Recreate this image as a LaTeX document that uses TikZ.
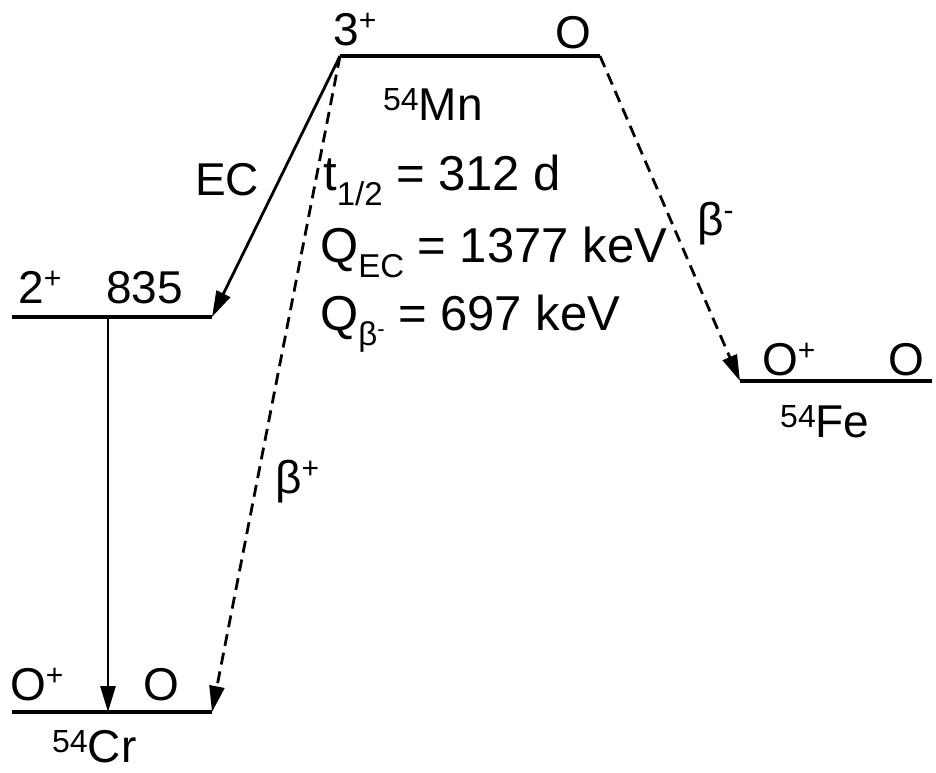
\documentclass[tikz,border=0pt]{standalone}
\usepackage{fontspec}
\setmainfont{Liberation Sans}
\usetikzlibrary{arrows.meta}
\newcommand{\myup}[1]{\raisebox{15pt}{\fontsize{30}{30}\selectfont #1}}
\newcommand{\mydn}[1]{\raisebox{-15pt}{\fontsize{33}{33}\selectfont #1}}
\newcommand{\myiso}[1]{\raisebox{10pt}{\fontsize{32}{32}\selectfont #1}}
\begin{document}
\begin{tikzpicture}[x=1pt,y=-1pt,
  level/.style={line width=3.2pt},
  trans/.style={line width=2.8pt,-{Triangle[length=26pt,width=15pt]}},
  dtrans/.style={trans,dash pattern=on 12pt off 7pt},
  lbl/.style={inner sep=0pt,anchor=base west,font=\fontsize{46}{50}\selectfont},
  txt/.style={lbl,font=\fontsize{49}{52}\selectfont},
]
\useasboundingbox (0,0) rectangle (936,772);
% level end points
\coordinate (mnL) at (340,56);
\coordinate (mnR) at (600,56);
\coordinate (exL) at (12,317);
\coordinate (exR) at (212,317);
\coordinate (exG) at (108,317);
\coordinate (crL) at (12,712);
\coordinate (crR) at (212,712);
\coordinate (crG) at (108,712);
\coordinate (feL) at (740,381);
\coordinate (feR) at (932,381);
% levels
\draw[level] (mnL) -- (mnR);
\draw[level] (exL) -- (exR);
\draw[level] (crL) -- (crR);
\draw[level] (feL) -- (feR);
% transitions
\draw[trans] (mnL) -- (exR);
\draw[trans] (exG) -- (crG);
\draw[dtrans] (mnL) -- (crR);
\draw[dtrans] (mnR) -- (feL);
% labels
\node[lbl] (mnspin) at (333,45) {3\myup{+}};
\node[lbl] (mnE) at (555,48) {O};
\node[lbl] (mnname) at (383,120) {\myiso{54}Mn};
\node[lbl] (ec) at (195,195) {EC};
\node[lbl] (exspin) at (18,303) {2\myup{+}};
\node[lbl] (exE) at (106,303) {835};
\node[lbl] (crspin) at (10,700) {O\myup{+}};
\node[lbl] (crE) at (143,700) {O};
\node[lbl] (crname) at (52,762) {\myiso{54}Cr};
\node[lbl] (bplus) at (275,493) {β\myup{+}};
\node[lbl] (bminus) at (697,235) {β\myup{-}};
\node[lbl] (fespin) at (762,375) {O\myup{+}};
\node[lbl] (feE) at (888,375) {O};
\node[lbl] (fename) at (780,437) {\myiso{54}Fe};
\node[txt] (thalf) at (323,190) {t\mydn{1/2} = 312 d};
\node[txt] (qec) at (320,262) {Q\mydn{EC} = 1377 keV};
\node[txt] (qb) at (320,330) {Q\mydn{β\raisebox{9pt}{\fontsize{22}{22}\selectfont -}} = 697 keV};
\end{tikzpicture}
\end{document}
